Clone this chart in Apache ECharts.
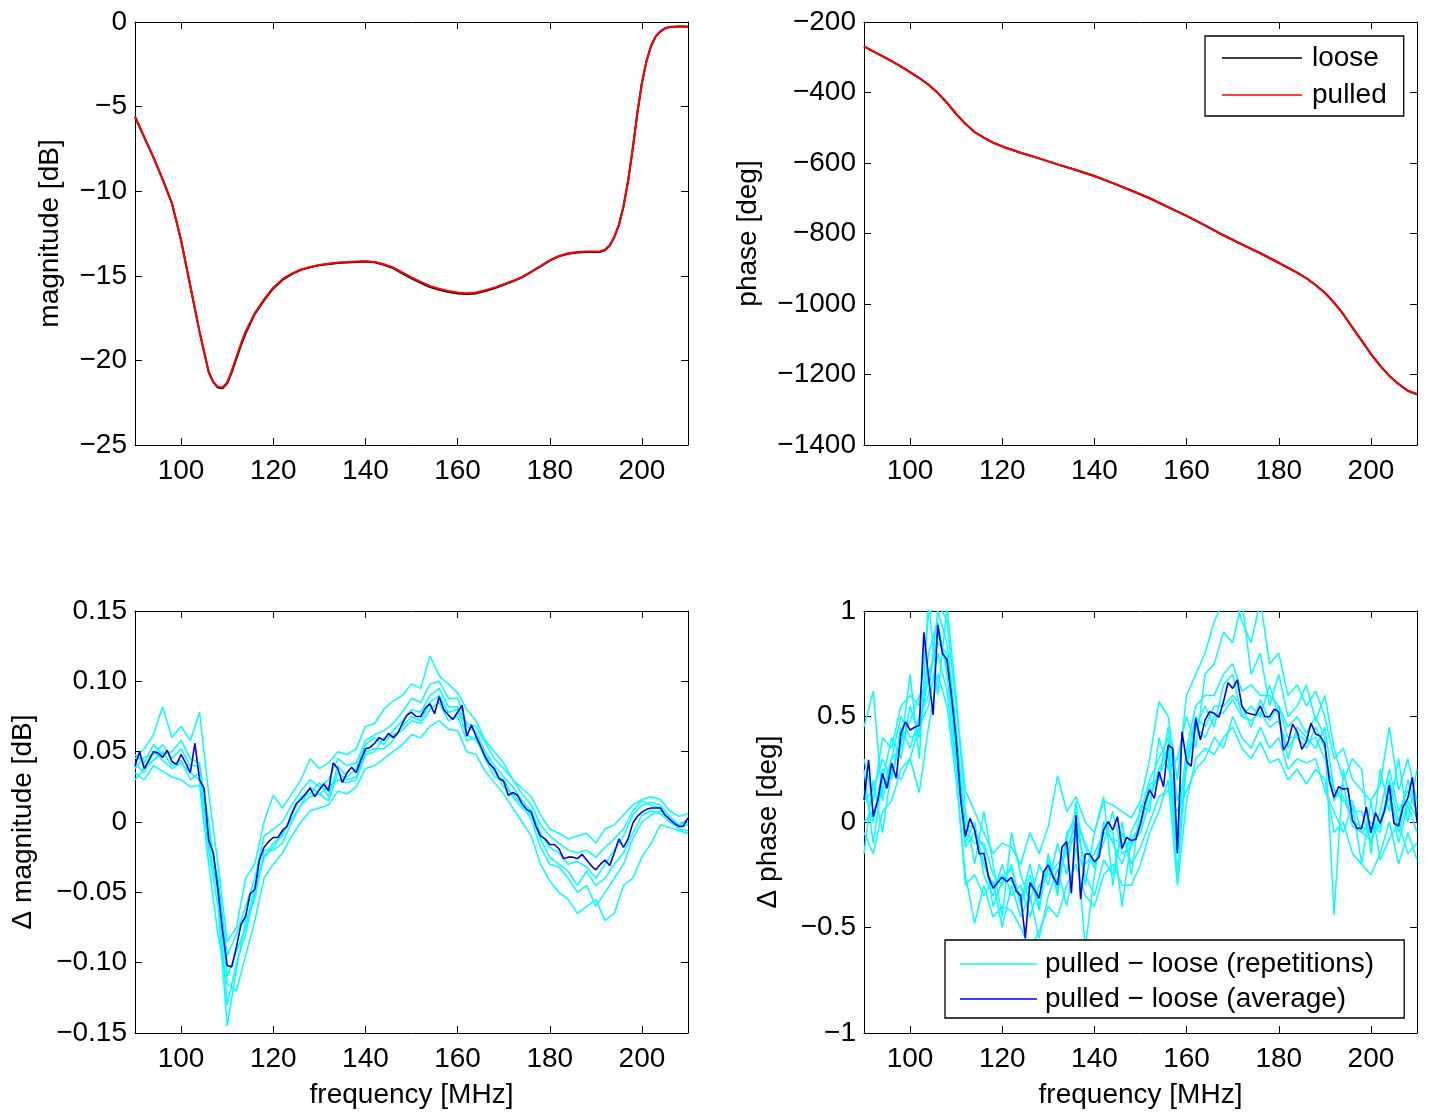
<!DOCTYPE html>
<html>
<head>
<meta charset="utf-8">
<script src="https://cdn.jsdelivr.net/npm/echarts@6.0.0/dist/echarts.min.js"></script>
<style>
  html, body { margin: 0; padding: 0; background: #fff; }
  #main { width: 1430px; height: 1116px; }
</style>
</head>
<body>
<div id="main"></div>
<script>
// top left: magnitude
var magFreq = [90,92,94,96,98,100,102,104,106,107,108,109,110,111,112,113,114,116,118,120,
  122,124,126,128,130,134,138,140,142,144,146,148,150,152,154,156,158,160,162,164,
  166,168,170,172,174,176,178,180,182,184,186,188,190,191,192,193,194,195,196,197,
  198,199,200,201,202,203,204,205,206,207,208,209,210];
var magLoose = [-5.6,-6.8,-8.0,-9.3,-10.7,-12.9,-15.6,-18.3,-20.7,-21.3,-21.6,-21.65,-21.35,-20.7,-19.9,-19.1,-18.4,-17.25,-16.45,-15.75,
  -15.25,-14.9,-14.65,-14.5,-14.38,-14.24,-14.18,-14.16,-14.2,-14.35,-14.55,-14.85,-15.15,-15.42,-15.66,-15.83,-15.96,-16.05,-16.08,-16.04,
  -15.9,-15.74,-15.53,-15.32,-15.09,-14.77,-14.44,-14.1,-13.85,-13.7,-13.62,-13.6,-13.6,-13.58,-13.48,-13.22,-12.72,-12.0,-10.9,-9.4,
  -7.5,-5.4,-3.6,-2.3,-1.4,-0.85,-0.55,-0.38,-0.3,-0.28,-0.27,-0.27,-0.28];
var magPulled = [-5.6,-6.8,-8.0,-9.3,-10.7,-12.9,-15.6,-18.3,-20.7,-21.3,-21.55,-21.6,-21.3,-20.6,-19.8,-19.0,-18.3,-17.2,-16.4,-15.7,
  -15.2,-14.87,-14.63,-14.48,-14.36,-14.22,-14.16,-14.14,-14.18,-14.32,-14.5,-14.8,-15.1,-15.36,-15.6,-15.77,-15.9,-15.99,-16.03,-15.99,
  -15.85,-15.7,-15.5,-15.3,-15.07,-14.75,-14.42,-14.08,-13.83,-13.67,-13.59,-13.57,-13.57,-13.55,-13.45,-13.2,-12.7,-12.0,-10.9,-9.4,
  -7.5,-5.4,-3.6,-2.3,-1.4,-0.85,-0.55,-0.38,-0.3,-0.28,-0.27,-0.27,-0.28];

// top right: phase
var phaseFreq = [90,92,94,96,98,100,102,104,106,108,110,112,114,116,118,120,124,128,132,136,
  140,144,148,152,156,160,164,168,172,176,180,184,186,188,190,192,194,196,198,200,
  202,204,206,208,210];
var phaseLoose = [-269,-283,-297,-311,-326,-342,-359,-378,-401,-429,-461,-489,-512,-528,-542,-553,-571,-587,-604,-620,
  -637,-657,-678,-700,-725,-750,-777,-805,-831,-856,-883,-911,-927,-946,-968,-996,-1029,-1067,-1104,-1142,
  -1175,-1204,-1227,-1246,-1256];
var phasePulled = [-269,-283,-297,-311,-326,-342,-359,-378,-401,-429,-461,-489,-512,-528,-542,-553,-571,-587,-604,-620,
  -637,-657,-678,-700,-725,-750,-777,-805,-831,-856,-883,-911,-927,-946,-968,-996,-1029,-1067,-1104,-1142,
  -1175,-1204,-1227,-1246,-1256];

// frequency grids of the difference plots
var avgFreq = [];
for (var f = 90; f <= 210; f++) avgFreq.push(f);
var repFreq = [];
for (var f2 = 90; f2 <= 210; f2 += 2) repFreq.push(f2);

// bottom left: delta magnitude
var dMagAvg = [
  0.040,0.050,0.038,0.044,0.050,0.049,0.046,0.051,0.043,0.041,
  0.048,0.042,0.035,0.056,0.030,0.024,-0.013,-0.022,-0.048,-0.077,
  -0.102,-0.103,-0.089,-0.073,-0.067,-0.051,-0.048,-0.027,-0.018,-0.014,
  -0.011,-0.011,-0.006,-0.003,0.006,0.013,0.016,0.020,0.024,0.018,
  0.023,0.027,0.022,0.042,0.038,0.028,0.035,0.039,0.035,0.044,
  0.052,0.053,0.056,0.060,0.058,0.063,0.060,0.063,0.070,0.076,
  0.078,0.075,0.075,0.081,0.084,0.077,0.089,0.080,0.076,0.073,
  0.078,0.083,0.061,0.069,0.061,0.054,0.046,0.041,0.038,0.031,
  0.029,0.019,0.021,0.019,0.013,0.009,0.007,-0.003,-0.010,-0.012,
  -0.016,-0.016,-0.019,-0.026,-0.025,-0.025,-0.026,-0.023,-0.027,-0.031,
  -0.034,-0.030,-0.027,-0.031,-0.022,-0.012,-0.018,-0.012,-0.001,0.004,
  0.007,0.009,0.010,0.010,0.010,0.005,0.002,-0.001,-0.003,-0.003,0.003];
var dMagRepA = [
  0.045,0.052,0.062,0.082,0.060,0.068,0.058,0.078,0.020,-0.030,
  -0.085,-0.075,-0.040,-0.030,0.000,0.019,0.010,0.020,0.030,0.045,
  0.038,0.042,0.050,0.048,0.052,0.068,0.070,0.080,0.086,0.090,
  0.098,0.095,0.118,0.104,0.098,0.092,0.080,0.072,0.058,0.050,
  0.042,0.030,0.024,0.018,0.005,-0.005,-0.008,-0.012,-0.010,-0.008,
  -0.015,-0.005,-0.002,0.005,0.012,0.016,0.018,0.016,0.008,0.004,
  0.006];
var dMagRepB = [
  0.035,0.030,0.040,0.036,0.032,0.030,0.025,0.026,-0.030,-0.080,
  -0.115,-0.120,-0.095,-0.070,-0.040,-0.030,-0.022,-0.010,0.000,0.008,
  0.010,0.012,0.022,0.020,0.025,0.038,0.040,0.045,0.050,0.055,
  0.062,0.060,0.068,0.072,0.066,0.065,0.050,0.048,0.036,0.028,
  0.020,0.010,0.000,-0.010,-0.030,-0.042,-0.050,-0.055,-0.065,-0.060,
  -0.055,-0.070,-0.065,-0.045,-0.040,-0.025,-0.015,-0.002,-0.004,-0.006,
  -0.008];
var dMagRepC = [
  0.038,0.046,0.048,0.055,0.045,0.052,0.040,0.040,0.000,-0.050,
  -0.130,-0.100,-0.080,-0.050,-0.025,-0.015,-0.010,0.005,0.018,0.020,
  0.028,0.018,0.040,0.032,0.038,0.055,0.060,0.055,0.065,0.072,
  0.080,0.078,0.090,0.095,0.082,0.082,0.068,0.064,0.050,0.040,
  0.032,0.025,0.015,0.008,-0.008,-0.018,-0.022,-0.030,-0.028,-0.032,
  -0.040,-0.030,-0.020,-0.010,0.005,0.012,0.014,0.012,0.004,-0.002,
  0.000];
var dMagRepD = [
  0.030,0.038,0.044,0.050,0.040,0.044,0.030,0.035,-0.020,-0.060,
  -0.145,-0.105,-0.070,-0.055,-0.020,-0.020,-0.015,0.000,0.012,0.018,
  0.020,0.025,0.030,0.028,0.030,0.048,0.050,0.060,0.062,0.065,
  0.072,0.070,0.080,0.085,0.072,0.075,0.058,0.060,0.045,0.032,
  0.030,0.018,0.010,0.005,-0.012,-0.025,-0.030,-0.035,-0.045,-0.035,
  -0.045,-0.040,-0.030,-0.022,-0.008,0.005,0.008,0.006,0.000,-0.004,
  -0.002];
var dMagRepE = [
  0.048,0.042,0.055,0.048,0.050,0.058,0.045,0.042,-0.010,-0.040,
  -0.095,-0.080,-0.060,-0.040,-0.010,-0.005,0.000,0.012,0.022,0.030,
  0.025,0.030,0.045,0.040,0.042,0.058,0.062,0.065,0.070,0.078,
  0.088,0.085,0.098,0.100,0.088,0.088,0.070,0.068,0.056,0.045,
  0.038,0.030,0.020,0.012,-0.002,-0.010,-0.015,-0.020,-0.022,-0.020,
  -0.025,-0.018,-0.012,-0.005,0.008,0.015,0.012,0.010,0.002,-0.002,
  0.002];
var dMagRepF = [
  0.042,0.035,0.050,0.044,0.038,0.042,0.035,0.030,-0.015,-0.050,
  -0.110,-0.092,-0.075,-0.045,-0.025,-0.018,-0.008,0.002,0.012,0.025,
  0.020,0.015,0.035,0.030,0.032,0.050,0.052,0.052,0.058,0.068,
  0.075,0.072,0.085,0.090,0.078,0.080,0.062,0.058,0.048,0.036,
  0.025,0.020,0.012,0.002,-0.018,-0.030,-0.032,-0.040,-0.050,-0.045,
  -0.060,-0.050,-0.040,-0.030,-0.012,0.000,0.005,0.008,0.002,-0.005,
  -0.006];

// bottom right: delta phase
var dPhAvg = [
  0.104,0.294,0.025,0.104,0.23,0.16,0.278,0.207,0.42,0.475,
  0.436,0.449,0.458,0.899,0.689,0.507,0.934,0.80,0.77,0.594,
  0.389,0.104,-0.069,0.017,-0.038,-0.152,-0.148,-0.259,-0.314,-0.287,
  -0.262,-0.283,-0.262,-0.325,-0.35,-0.551,-0.287,-0.322,-0.362,-0.235,
  -0.204,-0.259,-0.298,-0.117,-0.093,-0.338,0.033,-0.366,-0.152,-0.152,
  -0.188,-0.167,-0.038,0.002,-0.038,0.025,-0.125,-0.073,-0.088,-0.082,
  -0.009,0.092,0.152,0.112,0.238,0.167,0.365,0.349,-0.148,0.428,
  0.286,0.265,0.491,0.389,0.483,0.523,0.515,0.496,0.570,0.66,
  0.633,0.673,0.55,0.518,0.512,0.507,0.55,0.499,0.499,0.534,
  0.523,0.341,0.376,0.464,0.428,0.344,0.381,0.468,0.417,0.408,
  0.37,0.191,0.117,0.167,0.155,0.16,0.009,-0.03,-0.03,0.07,
  -0.05,0.044,-0.006,0.057,0.175,-0.006,-0.019,0.073,0.112,0.212,0.001];
var dPhRepA = [
  0.30,0.10,0.40,0.35,0.55,0.60,0.55,0.98,1.05,0.95,
  0.55,0.15,0.05,-0.05,-0.15,-0.10,-0.12,-0.20,-0.05,-0.15,
  -0.02,0.22,0.05,0.12,0.00,-0.05,0.10,0.08,0.05,0.02,
  0.10,0.30,0.57,0.50,0.20,0.60,0.70,0.80,0.95,1.05,
  1.10,0.95,0.85,1.05,0.75,0.80,0.60,0.65,0.55,0.62,
  0.50,0.30,0.35,0.20,0.15,0.10,0.18,0.45,0.15,0.30,
  0.10];
var dPhRepB = [
  -0.05,-0.15,0.05,0.10,0.25,0.30,0.14,0.45,0.70,0.55,
  0.20,-0.25,-0.48,-0.30,-0.45,-0.40,-0.42,-0.50,-0.60,-0.52,
  -0.40,-0.45,-0.30,-0.20,-0.35,-0.40,-0.25,-0.20,-0.30,-0.30,
  -0.20,-0.05,0.05,0.20,-0.30,0.10,0.30,0.35,0.32,0.40,
  0.45,0.35,0.30,0.38,0.28,0.30,0.20,0.25,0.18,0.25,
  0.20,-0.05,0.00,-0.15,-0.20,-0.25,-0.15,0.00,-0.20,-0.05,
  -0.18];
var dPhRepC = [
  0.25,-0.10,0.20,0.40,0.30,0.55,0.40,0.80,0.95,0.70,
  0.30,-0.10,0.00,-0.25,-0.35,-0.20,-0.35,-0.30,-0.45,-0.30,
  -0.25,-0.20,-0.15,-0.05,-0.60,-0.25,0.00,-0.10,-0.20,-0.05,
  0.05,0.20,0.30,0.40,-0.05,0.35,0.55,0.60,0.60,0.70,
  0.75,0.62,0.65,0.60,0.60,0.55,0.45,0.50,0.42,0.50,
  0.40,-0.44,0.25,0.05,0.05,-0.10,0.05,0.25,0.05,0.15,
  0.05];
var dPhRepD = [
  0.10,0.15,0.30,0.20,0.45,0.35,0.50,0.60,1.00,0.85,
  0.45,-0.05,-0.10,-0.10,-0.25,-0.30,-0.20,-0.40,-0.25,-0.42,
  -0.15,-0.35,-0.05,0.00,-0.10,-0.20,-0.10,0.05,-0.15,-0.12,
  0.00,0.18,0.20,0.45,0.10,0.25,0.45,0.55,0.45,0.65,
  0.70,0.50,0.55,0.50,0.65,0.50,0.30,0.45,0.40,0.35,
  0.45,0.15,0.10,0.10,-0.05,0.00,-0.05,0.20,0.00,0.20,
  0.05];
var dPhRepE = [
  0.00,0.05,0.15,0.30,0.50,0.40,0.42,0.70,0.85,0.80,
  0.40,-0.02,-0.02,-0.20,-0.30,-0.25,-0.28,-0.35,-0.30,-0.35,
  -0.22,-0.28,-0.12,-0.02,-0.20,-0.15,-0.05,-0.08,-0.10,-0.10,
  -0.05,0.10,0.25,0.35,-0.15,0.30,0.50,0.45,0.55,0.55,
  0.60,0.55,0.45,0.58,0.48,0.55,0.40,0.40,0.35,0.45,
  0.35,0.10,0.18,-0.02,-0.05,-0.08,0.00,0.15,-0.05,0.10,
  0.02];
var dPhRepF = [
  0.15,0.00,0.25,0.22,0.38,0.48,0.60,0.65,0.90,0.75,
  0.35,-0.12,-0.05,-0.12,-0.40,-0.28,-0.22,-0.38,-0.20,-0.40,
  -0.18,-0.32,-0.08,0.05,-0.12,-0.22,-0.02,-0.05,-0.40,-0.08,
  -0.02,0.15,0.22,0.32,-0.25,0.28,0.45,0.40,0.50,0.52,
  0.58,0.50,0.48,0.52,0.45,0.48,0.35,0.42,0.38,0.40,
  0.30,0.15,0.12,0.00,-0.02,-0.05,-0.02,0.12,-0.10,0.08,
  -0.05];
var dPhRepG = [
  0.45,0.62,0.10,0.30,0.35,0.70,0.30,1.05,0.60,1.02,
  0.60,0.05,-0.20,0.05,-0.20,-0.45,-0.05,-0.25,-0.38,-0.20,
  -0.30,-0.10,-0.25,0.10,-0.30,-0.05,0.12,-0.30,0.00,-0.25,
  0.08,0.05,0.40,0.25,0.30,0.50,0.35,0.70,0.75,0.90,
  0.85,1.05,0.70,0.80,0.55,0.70,0.50,0.55,0.65,0.48,
  0.60,0.35,0.20,0.30,0.25,-0.15,0.25,0.05,0.30,0.00,
  0.25];
var dPhRepH = [
  -0.15,0.20,-0.05,0.25,0.20,0.30,0.45,0.55,0.80,0.62,
  0.25,-0.30,-0.25,-0.35,-0.28,-0.50,-0.30,-0.45,-0.35,-0.55,
  -0.35,-0.22,-0.40,-0.12,-0.25,-0.35,-0.18,-0.25,-0.05,-0.20,
  -0.12,0.00,0.12,0.15,0.05,0.15,0.25,0.30,0.40,0.35,
  0.50,0.40,0.35,0.45,0.35,0.40,0.25,0.30,0.28,0.30,
  0.15,0.05,-0.05,0.08,-0.20,0.10,-0.18,-0.08,0.00,-0.15,
  -0.10];

var REP_NAME = 'pulled \u2212 loose (repetitions)';
var AVG_NAME = 'pulled \u2212 loose (average)';
var FONT = '"Liberation Sans", Arial, Helvetica, sans-serif';
var FS = 28;

function pairs(xs, ys) {
  var out = [];
  for (var i = 0; i < xs.length; i++) out.push([xs[i], ys[i]]);
  return out;
}

function minus(s) {
  return String(s).replace('-', '\u2212');
}

var textStyle = { fontSize: FS, fontFamily: FONT, color: '#000' };

function xAxes(gi, withName) {
  var bottom = {
    type: 'value', gridIndex: gi, position: 'bottom', min: 90, max: 210, splitNumber: 6,
    axisLine: { show: true, onZero: false, lineStyle: { color: '#000', width: 1 } },
    axisTick: { show: true, inside: true, length: 7, lineStyle: { color: '#000' } },
    axisLabel: {
      margin: 12, fontSize: FS, fontFamily: FONT, color: '#000',
      formatter: function (v) { return (v <= 90 || v >= 210) ? '' : String(v); }
    },
    splitLine: { show: false },
    name: withName ? 'frequency [MHz]' : '',
    nameLocation: 'middle', nameGap: 48, nameTextStyle: textStyle
  };
  var top = {
    type: 'value', gridIndex: gi, position: 'top', min: 90, max: 210, splitNumber: 6,
    axisLine: { show: true, onZero: false, lineStyle: { color: '#000', width: 1 } },
    axisTick: { show: true, inside: true, length: 7, lineStyle: { color: '#000' } },
    axisLabel: { show: false },
    splitLine: { show: false }
  };
  return [bottom, top];
}

function yAxes(gi, min, max, interval, fmt, name, gap) {
  var left = {
    type: 'value', gridIndex: gi, position: 'left', min: min, max: max, interval: interval,
    axisLine: { show: true, onZero: false, lineStyle: { color: '#000', width: 1 } },
    axisTick: { show: true, inside: true, length: 7, lineStyle: { color: '#000' } },
    axisLabel: { margin: 8, fontSize: FS, fontFamily: FONT, color: '#000', formatter: fmt },
    splitLine: { show: false },
    name: name, nameLocation: 'middle', nameRotate: 90, nameGap: gap, nameTextStyle: textStyle
  };
  var right = {
    type: 'value', gridIndex: gi, position: 'right', min: min, max: max, interval: interval,
    axisLine: { show: true, onZero: false, lineStyle: { color: '#000', width: 1 } },
    axisTick: { show: true, inside: true, length: 7, lineStyle: { color: '#000' } },
    axisLabel: { show: false },
    splitLine: { show: false }
  };
  return [left, right];
}

function fmtInt(v) { return minus(Math.round(v)); }
function fmt2(v) { return Math.abs(v) < 1e-9 ? '0' : minus(v.toFixed(2)); }
function fmtHalf(v) { return Math.abs(v) < 1e-9 ? '0' : minus(+v.toFixed(1)); }

function line(name, xi, data, color, width, z) {
  return {
    name: name, type: 'line', xAxisIndex: xi, yAxisIndex: xi, data: data,
    symbol: 'none', showSymbol: false, clip: true, z: z || 2,
    lineStyle: { color: color, width: width }, itemStyle: { color: color },
    emphasis: { disabled: true }
  };
}

var series = [
  line('loose', 0, pairs(magFreq, magLoose), '#000000', 2),
  line('pulled', 0, pairs(magFreq, magPulled), '#ff0000', 2),
  line('loose', 2, pairs(phaseFreq, phaseLoose), '#000000', 2),
  line('pulled', 2, pairs(phaseFreq, phasePulled), '#ff0000', 2)
];
[dMagRepA, dMagRepB, dMagRepC, dMagRepD, dMagRepE, dMagRepF].forEach(function (r) {
  series.push(line(REP_NAME, 4, pairs(repFreq, r), '#00ffff', 1.5));
});
series.push(line(AVG_NAME, 4, pairs(avgFreq, dMagAvg), '#0000ee', 1.6, 3));
[dPhRepA, dPhRepB, dPhRepC, dPhRepD, dPhRepE, dPhRepF, dPhRepG, dPhRepH].forEach(function (r) {
  series.push(line(REP_NAME, 6, pairs(repFreq, r), '#00ffff', 1.5));
});
series.push(line(AVG_NAME, 6, pairs(avgFreq, dPhAvg), '#0000ee', 1.6, 3));

var legendBase = {
  orient: 'vertical', selectedMode: false, icon: 'rect', itemHeight: 1.5, itemGap: 9,
  borderColor: '#000', borderWidth: 1.3, backgroundColor: '#fff', borderRadius: 0,
  textStyle: { fontSize: FS, fontFamily: FONT, color: '#000', lineHeight: 28, padding: [0, 0, 0, 5] },
  z: 10
};

var option = {
  animation: false,
  backgroundColor: '#fff',
  grid: [
    { left: 135, top: 22, width: 553, height: 423 },
    { left: 864, top: 22, width: 553, height: 423 },
    { left: 135, top: 611, width: 553, height: 422 },
    { left: 864, top: 611, width: 553, height: 422 }
  ],
  xAxis: [].concat(xAxes(0, false), xAxes(1, false), xAxes(2, true), xAxes(3, true)),
  yAxis: [].concat(
    yAxes(0, -25, 0, 5, fmtInt, 'magnitude [dB]', 71),
    yAxes(1, -1400, -200, 200, fmtInt, 'phase [deg]', 102),
    yAxes(2, -0.15, 0.15, 0.05, fmt2, '\u0394 magnitude [dB]', 98),
    yAxes(3, -1, 1, 0.5, fmtHalf, '\u0394 phase [deg]', 82)
  ),
  legend: [
    Object.assign({}, legendBase, {
      data: ['loose', 'pulled'], left: 1205, top: 36, itemWidth: 80, padding: [8, 17, 7, 17]
    }),
    Object.assign({}, legendBase, {
      data: [REP_NAME, AVG_NAME], left: 945, top: 940, itemWidth: 77, itemGap: 7, padding: [10, 30, 5, 15],
      textStyle: { fontSize: FS, fontFamily: FONT, color: '#000', lineHeight: 28, padding: [0, 0, 0, 3] }
    })
  ],
  series: series
};

var chart = echarts.init(document.getElementById('main'), null, { renderer: 'canvas' });
chart.setOption(option);
</script>
</body>
</html>
